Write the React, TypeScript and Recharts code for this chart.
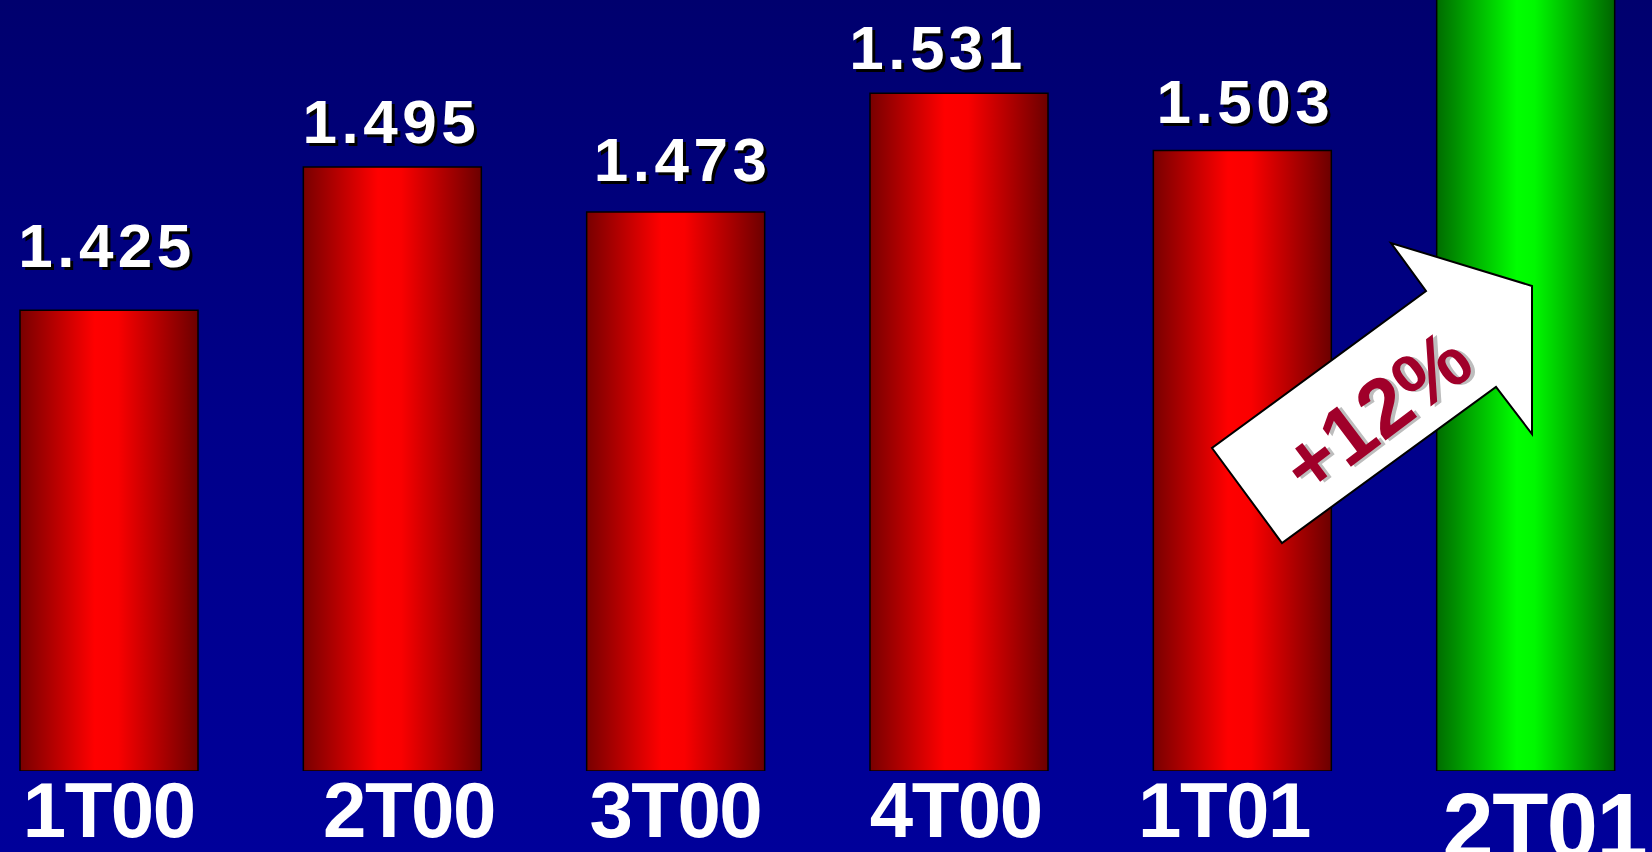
import { Bar, BarChart, Cell, LabelList, XAxis, YAxis } from "recharts";

// quarterly figures (millions)
const quarters = ["1T00", "2T00", "3T00", "4T00", "1T01", "2T01"];
const sales = [1.425, 1.495, 1.473, 1.531, 1.503, 1.675];
const highlight = ["red", "red", "red", "red", "red", "green"];
const growthLabel = "+12%";

const data = quarters.map((q, i) => ({ quarter: q, value: sales[i], tone: highlight[i] }));

// small hand nudges so the text sits like on the original slide
const tickNudge: Record<string, number> = { "2T00": 17, "4T00": -3, "1T01": -18, "2T01": 19 };
const valueNudge: Record<string, [number, number]> = {
    "1T00": [-2, -15],
    "2T00": [-1, 4],
    "3T00": [7, -3],
    "4T00": [-21, 4],
    "1T01": [3, 0],
};

const W = 1652;
const H = 852;
const font = "'Liberation Sans', Arial, sans-serif";

function QuarterTick(props: any) {
    const { x, y, payload } = props;
    const q = payload.value as string;
    const big = q === "2T01";
    return (
        <text
            x={x + (tickNudge[q] || 0)}
            y={y + (big ? 87 : 66)}
            textAnchor="middle"
            fill="#fff"
            fontFamily={font}
            fontWeight="bold"
            fontSize={big ? 92 : 78}
            letterSpacing={-1.5}
        >
            {q}
        </text>
    );
}

function ValueLabel(props: any) {
    const { x, y, width, value, index } = props;
    const q = quarters[index];
    if (q === "2T01") return null;
    const [dx, dy] = valueNudge[q] || [0, 0];
    const cx = x + width / 2 + dx;
    const by = y - 28 + dy;
    const txt = Number(value).toFixed(3);
    const common = {
        textAnchor: "middle" as const,
        fontFamily: font,
        fontWeight: "bold",
        fontSize: 62,
        letterSpacing: 4.5,
    };
    return (
        <g>
            <text x={cx + 3} y={by + 3} fill="#000" {...common}>{txt}</text>
            <text x={cx} y={by} fill="#fff" {...common}>{txt}</text>
        </g>
    );
}

export default function App() {
    return (
        <div
            style={{
                position: "absolute",
                left: 0,
                top: 0,
                width: W,
                height: H,
                overflow: "hidden",
                background: "linear-gradient(180deg, #00006e 0%, #00008a 50%, #00009a 100%)",
            }}
        >
            <div style={{ position: "absolute", left: -33, top: 0 }}>
                <BarChart width={1700} height={H} data={data} margin={{ top: 0, right: 0, bottom: 0, left: 0 }} barSize={178}>
                    <defs>
                        <linearGradient id="redGrad" x1="0" y1="0" x2="1" y2="0">
                            <stop offset="0%" stopColor="#780000" />
                            <stop offset="42%" stopColor="#ff0000" />
                            <stop offset="55%" stopColor="#fa0000" />
                            <stop offset="100%" stopColor="#6c0000" />
                        </linearGradient>
                        <linearGradient id="greenGrad" x1="0" y1="0" x2="1" y2="0">
                            <stop offset="0%" stopColor="#006c00" />
                            <stop offset="45%" stopColor="#00ff00" />
                            <stop offset="55%" stopColor="#00f800" />
                            <stop offset="100%" stopColor="#006400" />
                        </linearGradient>
                    </defs>
                    <XAxis
                        dataKey="quarter"
                        axisLine={false}
                        tickLine={false}
                        tickSize={0}
                        tickMargin={0}
                        height={81}
                        interval={0}
                        tick={<QuarterTick />}
                    />
                    <YAxis hide domain={[1.2, 1.5765]} allowDataOverflow />
                    <Bar dataKey="value" stroke="#000" strokeWidth={1.5} isAnimationActive={false}>
                        {data.map((d) => (
                            <Cell key={d.quarter} fill={d.tone === "green" ? "url(#greenGrad)" : "url(#redGrad)"} />
                        ))}
                        <LabelList dataKey="value" content={<ValueLabel />} />
                    </Bar>
                </BarChart>
            </div>
            {/* growth arrow annotation */}
            <svg width={W} height={H} style={{ position: "absolute", left: 0, top: 0 }}>
                <polygon
                    points="1212,448 1282,543 1496,387 1532,434 1532,286 1391,243 1426,291"
                    fill="#fff"
                    stroke="#000"
                    strokeWidth={2}
                />
                <g transform="translate(1376,412) rotate(-37)">
                    <text x={3} y={3} textAnchor="middle" dominantBaseline="central" fill="#bdbdbd"
                        fontFamily={font} fontWeight="bold" fontSize={82}>
                        {growthLabel}
                    </text>
                    <text x={0} y={0} textAnchor="middle" dominantBaseline="central" fill="#a0002a"
                        fontFamily={font} fontWeight="bold" fontSize={82}>
                        {growthLabel}
                    </text>
                </g>
            </svg>
        </div>
    );
}
